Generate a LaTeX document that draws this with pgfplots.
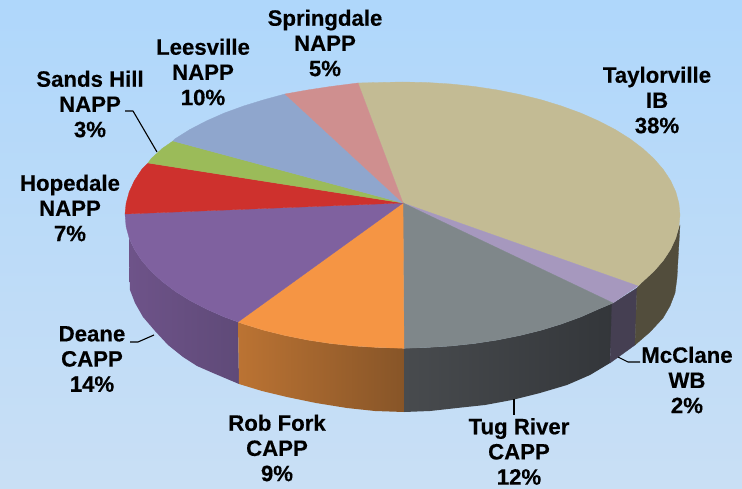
\documentclass[border=0pt]{standalone}
\usepackage{fontspec}
\setmainfont[BoldFeatures={FakeBold=0.35}]{Liberation Sans}
\usepackage{pgfplots}
\pgfplotsset{compat=1.18}
\definecolor{bgT}{HTML}{AFD7FB}
\definecolor{bgB}{HTML}{C9DFF5}
\definecolor{cTay}{HTML}{C3BB94}
\definecolor{cTayS}{HTML}{524D3C}
\definecolor{cMcC}{HTML}{A698BE}
\definecolor{cMcCS}{HTML}{453F52}
\definecolor{cTug}{HTML}{7F878A}
\definecolor{cTugL}{HTML}{484B4E}
\definecolor{cTugR}{HTML}{33363A}
\definecolor{cRob}{HTML}{F59544}
\definecolor{cRobL}{HTML}{BB7333}
\definecolor{cRobR}{HTML}{875528}
\definecolor{cDea}{HTML}{7F619F}
\definecolor{cDeaL}{HTML}{6E5389}
\definecolor{cDeaR}{HTML}{5F4A78}
\definecolor{cHop}{HTML}{CE312D}
\definecolor{cSan}{HTML}{9BBB59}
\definecolor{cLee}{HTML}{8FA6CD}
\definecolor{cSpr}{HTML}{CF8F8F}
\newcommand{\lab}[3]{\node[font=\fontsize{22.2}{25.2}\selectfont\bfseries,align=center,text=black,inner sep=0pt,anchor=center] at (axis cs:#1,#2) {#3};}
\begin{document}
\begin{tikzpicture}
\begin{axis}[
  scale only axis, width=742pt, height=489pt,
  xmin=0, xmax=742, ymin=0, ymax=489, y dir=reverse,
  hide axis, no markers, clip=true,
  every axis plot/.append style={line join=round},
]
% background
\addplot[draw=none, top color=bgT, bottom color=bgB] coordinates {(0,0)(742,0)(742,489)(0,489)} --cycle;
% sides
\addplot[draw=none, left color=cDeaL, right color=cDeaR] coordinates {(238,322)(224.1,316.9)(206.3,309)(189.9,300.5)(175.2,291.3)(162.2,281.5)(151.1,271.3)(141.7,260.5)(134.4,249.4)(129,238)(129,260)(130,290)(135,303)(143,317)(155,331)(168,345)(183,357)(197,366)(213,373)(239,384)} --cycle;
\addplot[draw=none, left color=cRobL, right color=cRobR] coordinates {(238,322)(243.3,323.9)(263.7,330.2)(285.1,335.5)(307.6,340)(330.6,343.5)(354.2,346)(378.4,347.5)(404,348.3)(404,412)(375,411)(347,408)(316,403)(287,397)(262,391)(239,384)} --cycle;
\addplot[draw=none, left color=cTugL, right color=cTugR] coordinates {(404,348.3)(426.6,347.5)(450.8,346)(474.4,343.5)(497.4,340)(519.9,335.5)(541.3,330.2)(561.7,323.9)(580.9,316.9)(598.7,309)(613,303)(610,363)(590,375)(567,385)(540,393)(512,400)(485,405)(457,408)(430,411)(404,412)} --cycle;
\addplot[draw=cMcCS, fill=cMcCS, line width=0.3pt] coordinates {(612,304)(637,288)(635,345)(610,363)} --cycle;
\addplot[draw=cTayS, fill=cTayS, line width=0.3pt] coordinates {(637,288)(642.8,281.5)(653.9,271.3)(663.3,260.5)(670.6,249.4)(675.8,238.1)(680,225)(678,260)(677,278)(675,293)(670,306)(663,318)(650,332)(635,345)} --cycle;
% top faces
\addplot[draw=cTay, fill=cTay, line width=0.3pt] coordinates {(403,203)(358,83)(378.4,82.5)(402.5,82)(426.6,82.5)(450.8,84)(474.4,86.5)(497.4,90)(519.9,94.5)(541.3,99.8)(561.7,106.1)(580.9,113.1)(598.7,121)(615.1,129.5)(629.8,138.7)(642.8,148.5)(653.9,158.7)(663.3,169.5)(670.6,180.6)(675.8,191.9)(678.9,203.4)(680,215)(678.9,226.6)(675.8,238.1)(670.6,249.4)(663.3,260.5)(653.9,271.3)(642.8,281.5)(638,286)} --cycle;
\addplot[draw=cMcC, fill=cMcC, line width=0.3pt] coordinates {(403,203)(638,286)(629.8,291.3)(613,303)} --cycle;
\addplot[draw=cTug, fill=cTug, line width=0.3pt] coordinates {(403,203)(613,303)(598.7,309)(580.9,316.9)(561.7,323.9)(541.3,330.2)(519.9,335.5)(497.4,340)(474.4,343.5)(450.8,346)(426.6,347.5)(404,348.3)} --cycle;
\addplot[draw=cRob, fill=cRob, line width=0.3pt] coordinates {(403,203)(404,348.3)(378.4,347.5)(354.2,346)(330.6,343.5)(307.6,340)(285.1,335.5)(263.7,330.2)(243.3,323.9)(238,322)} --cycle;
\addplot[draw=cDea, fill=cDea, line width=0.3pt] coordinates {(403,203)(238,322)(224.1,316.9)(206.3,309)(189.9,300.5)(175.2,291.3)(162.2,281.5)(151.1,271.3)(141.7,260.5)(134.4,249.4)(129.2,238.1)(126.1,226.6)(125,214)} --cycle;
\addplot[draw=cHop, fill=cHop, line width=0.3pt] coordinates {(403,203)(125,214)(126.1,203.4)(129.2,191.9)(134.4,180.6)(141.7,169.5)(148,163)} --cycle;
\addplot[draw=cSan, fill=cSan, line width=0.3pt] coordinates {(403,203)(148,163)(151.1,158.7)(162.2,148.5)(173,141)} --cycle;
\addplot[draw=cLee, fill=cLee, line width=0.3pt] coordinates {(403,203)(173,141)(175.2,138.7)(189.9,129.5)(206.3,121)(224.1,113.1)(243.3,106.1)(263.7,99.8)(285,94)} --cycle;
\addplot[draw=cSpr, fill=cSpr, line width=0.3pt] coordinates {(403,203)(285,94)(307.6,90)(330.6,86.5)(358,83)} --cycle;
% leader lines
\addplot[black, line width=1.1pt] coordinates {(125,111)(133,111)(157,152)};
\addplot[black, line width=1.1pt] coordinates {(130,342)(138,342)(154,335)};
\addplot[black, line width=1.1pt] coordinates {(514,399)(514,415)};
\addplot[black, line width=1.1pt] coordinates {(618,357)(628,362)(640,362)};
% labels
\lab{325}{43}{Springdale\\NAPP\\5\%}
\lab{657}{100}{Taylorville\\IB\\38\%}
\lab{203}{72}{Leesville\\NAPP\\10\%}
\lab{90}{104}{Sands Hill\\NAPP\\3\%}
\lab{70}{208}{Hopedale\\NAPP\\7\%}
\lab{92}{359}{Deane\\CAPP\\14\%}
\lab{277}{448}{Rob Fork\\CAPP\\9\%}
\lab{519}{451.5}{Tug River\\CAPP\\12\%}
\lab{687}{380}{McClane\\WB\\2\%}
\end{axis}
\end{tikzpicture}
\end{document}
